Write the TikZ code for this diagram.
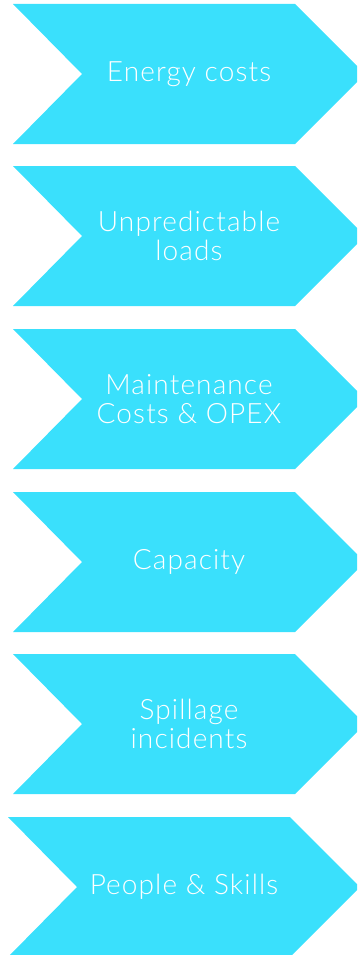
\documentclass[tikz,border=0pt]{standalone}
\usepackage{fontspec}
\setmainfont{Lato}[UprightFont={* Light}, LetterSpace=4]
\definecolor{chev}{RGB}{58,224,252}
\tikzset{
  chevlabel/.style={text=white, align=center, font=\fontsize{28}{29}\selectfont, inner sep=0pt},
}
\begin{document}
\begin{tikzpicture}[x=1pt,y=-1pt]
\useasboundingbox (0,0) rectangle (357,955);
\clip (0,0) rectangle (357,955);
\foreach \L/\T/\name/\txt in {13/4/c1/{Energy costs},13/166/c2/{Unpredictable\\loads},13/329/c3/{Maintenance\\Costs \& OPEX},13/492/c4/{Capacity},13/654/c5/{Spillage\\incidents},8/817/c6/{People \& Skills}}{
  \fill[chev] (\L,\T) -- ++(282,0) -- ++(70,70) -- ++(-70,70) -- ++(-282,0) -- ++(69,-70) -- cycle;
  \node[chevlabel] (\name) at (\L+176,\T+70) {\txt};
}
\end{tikzpicture}
\end{document}
